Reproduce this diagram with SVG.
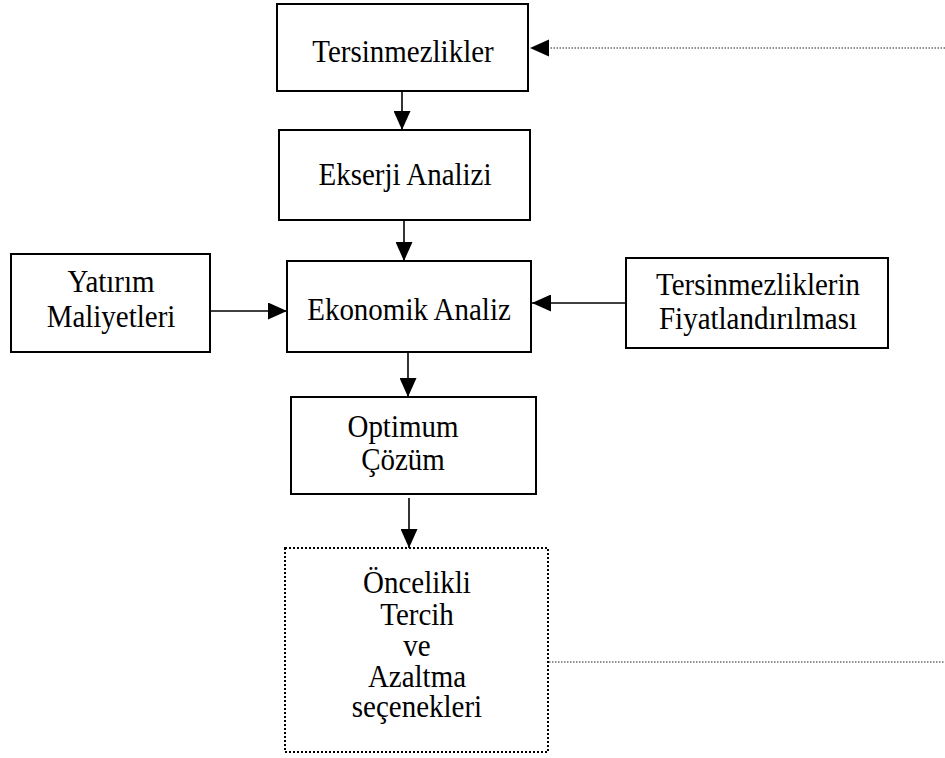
<svg xmlns="http://www.w3.org/2000/svg" width="945" height="758" viewBox="0 0 945 758">
  <style>
    .box { fill: #ffffff; stroke: #000000; stroke-width: 2; }
    .dbox { fill: #ffffff; stroke: #000000; stroke-width: 2; stroke-dasharray: 2 2; }
    .lbl { font-family: "Liberation Serif", "Times New Roman", serif; font-size: 29px; fill: #000000; text-anchor: middle; }
    .edge { fill: none; stroke: #000000; stroke-width: 1.6; }
    .dedge { fill: none; stroke: #222222; stroke-width: 1.2; stroke-dasharray: 1.5 1.5; }
  </style>
  <defs>
    <marker id="ah" viewBox="0 0 19 17" refX="19" refY="8.5" markerWidth="19" markerHeight="17" markerUnits="userSpaceOnUse" orient="auto">
      <path d="M0,0 L19,8.5 L0,17 Z" fill="#000000"/>
    </marker>
  </defs>
  <rect x="0" y="0" width="945" height="758" fill="#ffffff"/>

  <g id="connectors">
    <line class="edge" x1="402" y1="91" x2="402" y2="130" marker-end="url(#ah)"/>
    <line class="edge" x1="404" y1="220" x2="404" y2="261" marker-end="url(#ah)"/>
    <line class="edge" x1="210" y1="311" x2="287" y2="311" marker-end="url(#ah)"/>
    <line class="edge" x1="626" y1="303" x2="532" y2="303" marker-end="url(#ah)"/>
    <line class="edge" x1="408" y1="352" x2="408" y2="397" marker-end="url(#ah)"/>
    <line class="edge" x1="409" y1="498" x2="409" y2="548" marker-end="url(#ah)"/>
    <line class="dedge" x1="549" y1="662" x2="945" y2="662"/>
    <line class="dedge" x1="945" y1="48" x2="548" y2="48"/>
    <path d="M549,39.5 L530,48 L549,56.5 Z" fill="#000000"/>
  </g>

  <g id="n-tersinmezlikler">
    <rect class="box" x="277" y="4" width="251" height="87"/>
    <text class="lbl" transform="translate(403 62) scale(1 1.12)">Tersinmezlikler</text>
  </g>

  <g id="n-ekserji">
    <rect class="box" x="279" y="130" width="251" height="90"/>
    <text class="lbl" transform="translate(405 185) scale(1 1.12)">Ekserji Analizi</text>
  </g>

  <g id="n-ekonomik">
    <rect class="box" x="287" y="261" width="244" height="91"/>
    <text class="lbl" transform="translate(409 320) scale(1 1.12)">Ekonomik Analiz</text>
  </g>

  <g id="n-yatirim">
    <rect class="box" x="11" y="254" width="199" height="98"/>
    <text class="lbl" transform="translate(111 292) scale(1 1.12)">Yatırım</text>
    <text class="lbl" transform="translate(111 327) scale(1 1.12)">Maliyetleri</text>
  </g>

  <g id="n-fiyat">
    <rect class="box" x="626" y="258" width="262" height="90"/>
    <text class="lbl" transform="translate(758 295) scale(1 1.12)">Tersinmezliklerin</text>
    <text class="lbl" transform="translate(758 329) scale(1 1.12)">Fiyatlandırılması</text>
  </g>

  <g id="n-optimum">
    <rect class="box" x="291" y="397" width="245" height="97"/>
    <text class="lbl" transform="translate(403 437) scale(1 1.12)">Optimum</text>
    <text class="lbl" transform="translate(403 470) scale(1 1.12)">Çözüm</text>
  </g>

  <g id="n-oncelikli">
    <rect class="dbox" x="285" y="548" width="263" height="204"/>
    <text class="lbl" transform="translate(417 593) scale(1 1.12)">Öncelikli</text>
    <text class="lbl" transform="translate(417 625) scale(1 1.12)">Tercih</text>
    <text class="lbl" transform="translate(417 656) scale(1 1.12)">ve</text>
    <text class="lbl" transform="translate(417 687) scale(1 1.12)">Azaltma</text>
    <text class="lbl" transform="translate(417 717) scale(1 1.12)">seçenekleri</text>
  </g>
</svg>
